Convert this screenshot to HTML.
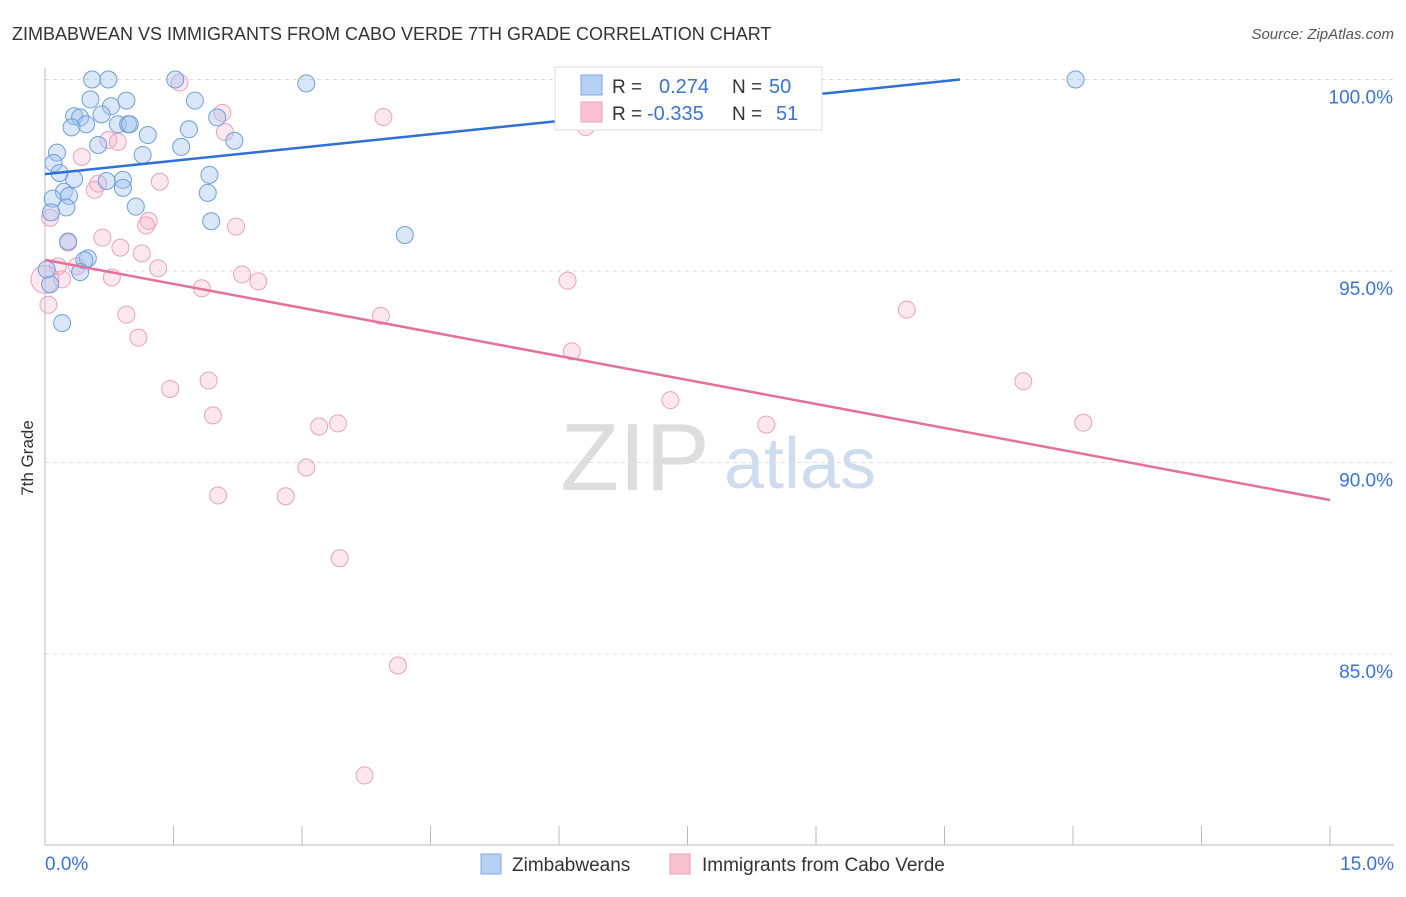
<!DOCTYPE html>
<html><head><meta charset="utf-8"><style>
body{margin:0;background:#fff;font-family:"Liberation Sans",sans-serif;}
svg text{font-family:"Liberation Sans",sans-serif;}
</style></head><body>
<svg id="chart" width="1406" height="892" xmlns="http://www.w3.org/2000/svg">
<text x="12" y="40" font-size="18" fill="#333">ZIMBABWEAN VS IMMIGRANTS FROM CABO VERDE 7TH GRADE CORRELATION CHART</text>
<text x="1394" y="39" font-size="15" fill="#555" font-style="italic" text-anchor="end">Source: ZipAtlas.com</text>
<text x="33" y="458" font-size="17" fill="#333" text-anchor="middle" transform="rotate(-90 33 458)">7th Grade</text>
<g><text x="635" y="490" font-size="96" fill="#ddd" text-anchor="middle" font-family="Liberation Serif">ZIP</text><text x="800" y="488" font-size="72" fill="#cfdcef" text-anchor="middle">atlas</text></g>
<g id="grid"></g><g id="axes"></g><g id="pts"></g><g id="lines"></g>
<g>
<rect x="555" y="67" width="267" height="63" fill="#fff" stroke="#ddd"/>
<rect x="581" y="75" width="21" height="20" fill="#b5d0f3" stroke="#7ea9e4"/>
<rect x="581" y="102" width="21" height="20" fill="#f9c3d3" stroke="#eba0b8"/>
<text x="612" y="93" font-size="19" fill="#333">R =</text><text x="659" y="93" font-size="20" fill="#3b73d1">0.274</text>
<text x="732" y="93" font-size="19" fill="#333">N =</text><text x="769" y="93" font-size="20" fill="#3b73d1">50</text>
<text x="612" y="120" font-size="19" fill="#333">R =</text><text x="647" y="120" font-size="20" fill="#3b73d1">-0.335</text>
<text x="732" y="120" font-size="19" fill="#333">N =</text><text x="776" y="120" font-size="20" fill="#3b73d1">51</text>
</g>
<g>
<rect x="481" y="854" width="20" height="20" fill="#b5d0f3" stroke="#7ea9e4"/>
<text x="512" y="871" font-size="19" fill="#333">Zimbabweans</text>
<rect x="670" y="854" width="20" height="20" fill="#f9c3d3" stroke="#eba0b8"/>
<text x="702" y="871" font-size="19" fill="#333">Immigrants from Cabo Verde</text>
</g>
</svg>
<script>
const blueX=[0.55,0.74,1.52,3.05,12.03,0.53,0.95,0.77,1.75,0.34,0.41,0.66,0.48,0.31,0.85,0.97,0.99,2.01,1.2,1.68,0.62,2.21,1.59,1.14,0.14,0.1,0.17,0.34,0.72,0.91,1.92,0.22,0.28,0.91,1.9,0.09,0.25,1.06,0.07,1.94,4.2,0.27,0.5,0.46,0.41,0.2,0.06,0.02];
const blueY=[100,100,100,99.9,100,99.48,99.45,99.3,99.45,99.04,99.01,99.09,98.83,98.75,98.83,98.83,98.83,99.01,98.55,98.7,98.29,98.4,98.24,98.03,98.09,97.82,97.56,97.4,97.35,97.38,97.51,97.07,96.96,97.17,97.04,96.89,96.66,96.68,96.53,96.3,95.94,95.77,95.33,95.28,94.97,93.64,94.65,95.04];
const pinkX=[1.57,3.95,2.07,6.31,2.1,0.74,0.85,0.43,0.58,1.34,0.62,0.06,1.21,2.23,1.18,0.67,0.88,0.27,1.13,0.15,0.37,1.32,2.3,0.78,2.49,6.1,1.83,0.2,0.04,0.95,3.92,10.06,1.09,6.15,1.46,1.91,11.42,7.3,1.96,3.2,3.42,8.42,12.12,3.05,2.02,2.81,3.44,4.12,3.73,0];
const pinkY=[99.92,99.02,99.13,98.76,98.63,98.42,98.37,97.98,97.12,97.33,97.28,96.39,96.31,96.16,96.19,95.87,95.61,95.74,95.46,95.12,95.12,95.07,94.91,94.83,94.73,94.75,94.55,94.78,94.12,93.86,93.83,93.99,93.26,92.9,91.92,92.14,92.12,91.63,91.23,90.94,91.02,90.99,91.04,89.87,89.14,89.12,87.5,84.7,81.83,94.78];
const blueLine=[[0,97.53],[10.68,100]];
const pinkLine=[[0,95.29],[15,89.02]];
const yTicks=[100,95,90,85];
const yTickLabels=["100.0%","95.0%","90.0%","85.0%"];
const xTickCount=11;
const NS="http://www.w3.org/2000/svg";
const X=v=>45+v*(1285/15), Y=v=>79.5+(100-v)*38.3;
function mk(t,a,p){const e=document.createElementNS(NS,t);for(const k in a)e.setAttribute(k,a[k]);document.getElementById(p).appendChild(e);return e;}
yTicks.forEach((t,i)=>{
 const g=mk('line',{x1:45,x2:1394,y1:Y(t),y2:Y(t),stroke:'#ddd','stroke-dasharray':'4 4'},'grid');
 
 
 const l=mk('text',{x:1393,y:Y(t)+24,'font-size':19,fill:'#3b73d1','text-anchor':'end'},'axes');l.textContent=yTickLabels[i];
 
 
});
const ax=mk('line',{x1:45,x2:1394,y1:845,y2:845,stroke:'#bbb'},'axes');


const ay=mk('line',{x1:45,x2:45,y1:68,y2:845,stroke:'#bbb'},'axes');


for(let i=0;i<xTickCount;i++){const v=i*1.5;const t=mk('line',{x1:X(v),x2:X(v),y1:826,y2:845,stroke:'#bbb'},'axes');
 
 }
const l0=mk('text',{x:45,y:870,'font-size':19,fill:'#3b73d1'},'axes');l0.textContent='0.0%';


const l1=mk('text',{x:1394,y:870,'font-size':19,fill:'#3b73d1','text-anchor':'end'},'axes');l1.textContent='15.0%';


pinkX.forEach((x,i)=>{const c=mk('circle',{cx:X(x),cy:Y(pinkY[i]),r:i==pinkX.length-1?14:8.5,fill:'rgba(245,175,198,0.3)',stroke:'#eaa2bb','stroke-width':1},'pts');
 
 });
blueX.forEach((x,i)=>{const c=mk('circle',{cx:X(x),cy:Y(blueY[i]),r:8.5,fill:'rgba(160,195,240,0.4)',stroke:'#6f9fdc','stroke-width':1},'pts');
 
 });
const bl=mk('line',{x1:X(blueLine[0][0]),y1:Y(blueLine[0][1]),x2:X(blueLine[1][0]),y2:Y(blueLine[1][1]),stroke:'#2f6fd6','stroke-width':2.5},'lines');


const pl=mk('line',{x1:X(pinkLine[0][0]),y1:Y(pinkLine[0][1]),x2:X(pinkLine[1][0]),y2:Y(pinkLine[1][1]),stroke:'#e5709b','stroke-width':2.5},'lines');


</script>
</body></html>
